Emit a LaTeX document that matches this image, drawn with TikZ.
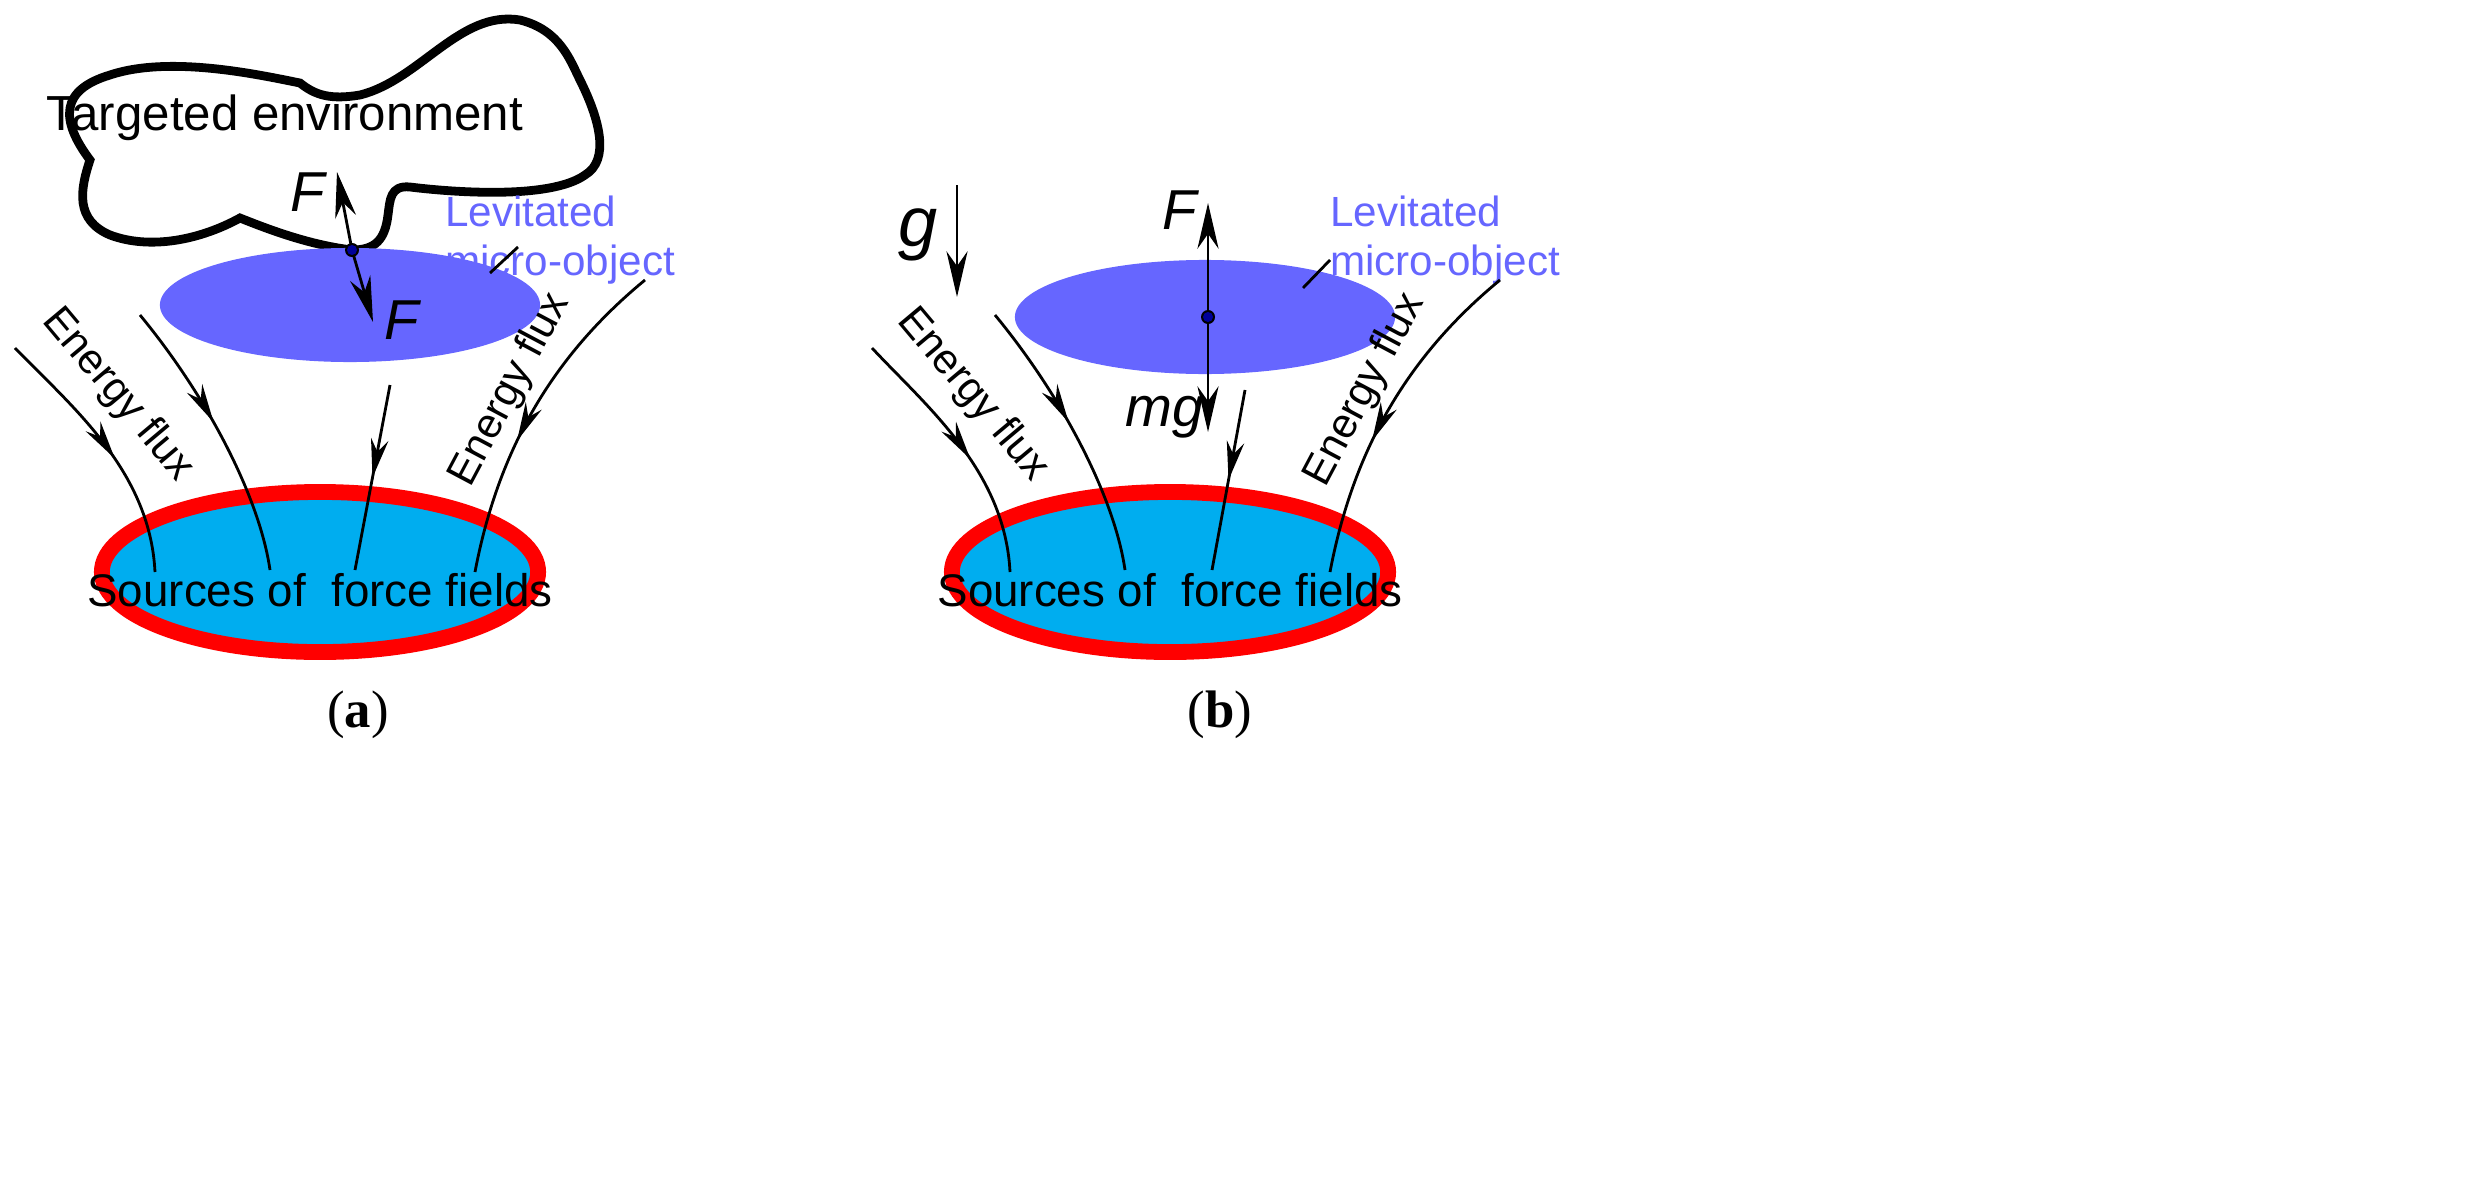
\documentclass[tikz,border=0pt]{standalone}
\usepackage{fontspec}
\setmainfont{Liberation Sans}
\newfontfamily\capfont{Liberation Serif}
\usetikzlibrary{arrows.meta,decorations.markings}
\definecolor{purp}{HTML}{6666FF}
\begin{document}
\begin{tikzpicture}[x=0.01cm,y=-0.01cm,
  flux/.style={thick,postaction={decorate},decoration={markings,mark=at position #1 with {\arrow{Stealth[length=11pt,width=5pt]}}}},
  force/.style={thick,-{Stealth[length=13pt,width=6pt]}},
  lbl/.style={font=\fontsize{12}{14}\selectfont},
  plbl/.style={font=\fontsize{12}{14}\selectfont,text=purp,align=left},
  fl/.style={font=\fontsize{16}{18}\selectfont\itshape},
  sublbl/.style={font=\capfont\fontsize{15}{18}\selectfont}]
\useasboundingbox (0,0) rectangle (2492,1188);
% ---------- (a)
\draw[line width=2.5pt] (90,160) .. controls (60,120) and (60,90) .. (110,75)
  .. controls (170,55) and (260,75) .. (300,83)
  .. controls (315,95) and (330,100) .. (360,95)
  .. controls (420,80) and (460,10) .. (520,20)
  .. controls (560,30) and (570,60) .. (580,80)
  .. controls (600,120) and (610,160) .. (585,175)
  .. controls (550,200) and (450,192) .. (410,187)
  .. controls (390,185) and (390,200) .. (388,215)
  .. controls (385,240) and (375,250) .. (352,250)
  .. controls (310,245) and (270,230) .. (240,218)
  .. controls (200,240) and (150,250) .. (110,235)
  .. controls (75,220) and (80,190) .. (90,160) -- cycle;
\node[lbl,font=\fontsize{14}{16}\selectfont] (te) at (285,118) {Targeted environment};
\fill[purp] (350,305) ellipse [x radius=1.9cm, y radius=0.57cm];
\draw[red,fill=cyan,line width=4.5pt] (320,572) ellipse [x radius=2.18cm, y radius=0.8cm];
\node[lbl,font=\fontsize{13}{15}\selectfont] (sa) at (320,590) {Sources of\ \ force fields};
\coordinate (da) at (352,250);
\coordinate (fau) at (337,172);
\coordinate (fad) at (373,322);
\draw[force] (da) -- (fau);
\draw[force] (da) -- (fad);
\fill[black] (da) circle (0.07cm);
\fill[blue!60!black] (da) circle (0.05cm);
\node[fl] (Fa1) at (308,192) {F};
\node[fl] (Fa2) at (402,320) {F};
\node[plbl] (la) at (560,240) {Levitated\\micro-object};
\draw[thick] (518,247) -- (490,273);
\draw[flux=0.55] (15,348) .. controls (70,405) and (150,470) .. (155,572);
\draw[flux=0.45] (140,315) .. controls (210,400) and (260,500) .. (270,570);
\draw[flux=0.5] (390,385) -- (355,570);
\draw[flux=0.6] (645,280) .. controls (560,350) and (500,440) .. (475,572);
\node[lbl,rotate=-50] (efa1) at (118,395) {Energy flux};
\node[lbl,rotate=62] (efa2) at (510,390) {Energy flux};
\node[sublbl] (ca) at (358,715) {(\textbf{a})};
% ---------- (b)
\fill[purp] (1205,317) ellipse [x radius=1.9cm, y radius=0.57cm];
\draw[red,fill=cyan,line width=4.5pt] (1170,572) ellipse [x radius=2.18cm, y radius=0.8cm];
\node[lbl,font=\fontsize{13}{15}\selectfont] (sb) at (1170,590) {Sources of\ \ force fields};
\coordinate (db) at (1208,317);
\coordinate (fbu) at (1208,203);
\coordinate (fbd) at (1208,432);
\draw[force] (db) -- (fbu);
\draw[force] (db) -- (fbd);
\fill[black] (db) circle (0.07cm);
\fill[blue!60!black] (db) circle (0.05cm);
\node[fl] (Fb) at (1180,210) {F};
\node[fl] (mg) at (1165,417) {mg};
\coordinate (g1) at (957,185);
\coordinate (g2) at (957,297);
\draw[force] (g1) -- (g2);
\node[fl,font=\fontsize{20}{22}\selectfont\itshape] (g) at (918,235) {g};
\node[plbl] (lb) at (1445,240) {Levitated\\micro-object};
\draw[thick] (1330,260) -- (1303,288);
\draw[flux=0.55] (872,348) .. controls (925,405) and (1005,470) .. (1010,572);
\draw[flux=0.45] (995,315) .. controls (1065,400) and (1115,500) .. (1125,570);
\draw[flux=0.5] (1245,390) -- (1212,570);
\draw[flux=0.6] (1500,280) .. controls (1415,350) and (1355,440) .. (1330,572);
\node[lbl,rotate=-50] (efb1) at (973,395) {Energy flux};
\node[lbl,rotate=62] (efb2) at (1365,390) {Energy flux};
\node[sublbl] (cb) at (1220,715) {(\textbf{b})};
\end{tikzpicture}
\end{document}
